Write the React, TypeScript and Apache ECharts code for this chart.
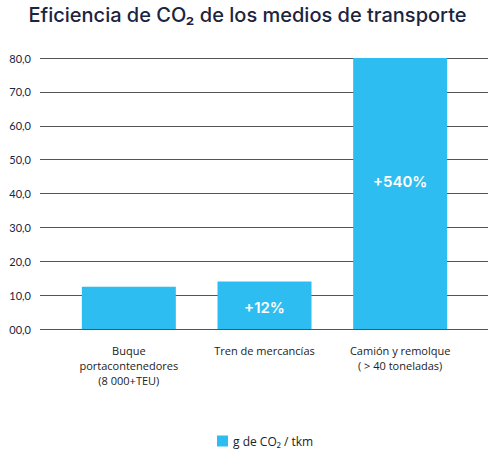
import React, { useEffect, useRef } from "react";
import * as echarts from "echarts";

const categories = [
  "Buque\nportacontenedores\n(8 000+TEU)",
  "Tren de mercancías",
  "Camión y remolque\n( > 40 toneladas)",
];
const values = [12.5, 14, 80];
const barLabels = ["", "+12%", "+540%"];
const yTickLabels = ["00,0", "10,0", "20,0", "30,0", "40,0", "50,0", "60,0", "70,0", "80,0"];
const seriesName = "g de CO₂ / tkm";
const titleText = "Eficiencia de CO₂ de los medios de transporte";

export default function App() {
  const ref = useRef<HTMLDivElement>(null);
  useEffect(() => {
    document.body.style.margin = "0";
    const chart = echarts.init(ref.current!, null, { renderer: "svg" });
    const barColor = "#2ebdf0";
    chart.setOption({
      animation: false,
      backgroundColor: "#ffffff",
      title: {
        text: titleText,
        left: "center",
        top: 0,
        textStyle: {
          fontFamily: "Inter",
          fontWeight: 500,
          fontSize: 20,
          color: "#1b2440",
        },
      },
      legend: {
        data: [seriesName],
        left: 212,
        top: 429,
        icon: "rect",
        itemWidth: 11,
        itemHeight: 11,
        itemGap: 6,
        textStyle: { fontFamily: "Open Sans", fontSize: 12, color: "#222", lineHeight: 14 },
      },
      grid: [
        { left: 40, right: 7, top: 58, bottom: 121 },
        { left: 61, right: 27, top: 58, bottom: 121 },
      ],
      xAxis: [
        { type: "category", gridIndex: 0, data: categories, show: false },
        {
          type: "category",
          gridIndex: 1,
          data: categories,
          axisLine: { show: false },
          axisTick: { show: false },
          axisLabel: {
            margin: 14,
            fontFamily: "Open Sans",
            fontSize: 11,
            lineHeight: 15,
            color: "#222",
            interval: 0,
          },
        },
      ],
      yAxis: [
        {
          type: "value",
          gridIndex: 0,
          min: 0,
          max: 80,
          interval: 10,
          axisLine: { show: false },
          axisTick: { show: false },
          splitLine: { lineStyle: { color: "#555", width: 1 } },
          axisLabel: {
            margin: 9,
            fontFamily: "Lato",
            fontSize: 11,
            color: "#1b2440",
            formatter: (v: number) => yTickLabels[Math.round(v / 10)],
          },
        },
        {
          type: "value",
          gridIndex: 1,
          min: 0,
          max: 80,
          interval: 10,
          show: false,
          splitLine: { show: false },
        },
      ],
      series: [
        {
          name: seriesName,
          type: "bar",
          xAxisIndex: 1,
          yAxisIndex: 1,
          barWidth: 94,
          itemStyle: { color: barColor },
          data: values.map((v, i) => ({
            value: v,
            label: {
              show: barLabels[i] !== "",
              position: "inside",
              offset: i === 2 ? [0, -12] : [0, 2],
              formatter: barLabels[i],
              color: "#ffffff",
              fontFamily: "Inter",
              fontWeight: 600,
              fontSize: 15,
            },
          })),
        },
      ],
    });
    return () => chart.dispose();
  }, []);
  return <div ref={ref} style={{ width: 495, height: 450 }} />;
}
